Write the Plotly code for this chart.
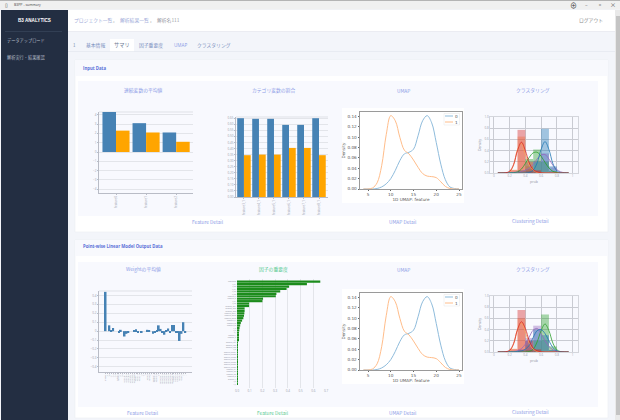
import plotly.graph_objects as go

W, H = 620, 420
JP = "Noto Sans CJK JP"
LINK = "#8c9be6"
BLUE = "steelblue"
ORANGE = "orange"
GREEN = "#1c8c1c"

# continuous / categorical averages
cont_labels = ["feature0", "feature1", "feature2"]
cont_blue = [4.3, 3.1, 2.1]
cont_orange = [2.3, 2.1, 1.1]
cat_labels = ["feature3_1", "feature4_1", "feature5_1", "feature6_1", "feature7_1", "feature8_1"]
cat_blue = [0.65, 0.645, 0.645, 0.595, 0.595, 0.65]
cat_orange = [0.345, 0.35, 0.35, 0.405, 0.405, 0.345]
cat_ticks = [0.0, 0.05, 0.1, 0.15, 0.2, 0.25, 0.3, 0.35, 0.4, 0.45, 0.5, 0.55, 0.6, 0.65]

# umap density
umap_x = [4, 5, 6, 7, 8, 9, 10, 11, 12, 13, 14, 15, 16, 17, 18, 19, 20, 21, 22, 23, 24, 25]
umap_0 = [0, 0, 0, 0.001, 0.004, 0.01, 0.02, 0.036, 0.055, 0.068, 0.071, 0.077, 0.103, 0.132, 0.142, 0.128,
          0.09, 0.048, 0.018, 0.004, 0.001, 0]
umap_1 = [0, 0, 0.002, 0.012, 0.045, 0.105, 0.142, 0.132, 0.1, 0.075, 0.068, 0.056, 0.042, 0.03, 0.025, 0.024,
          0.022, 0.014, 0.005, 0.001, 0, 0]
umap_ticks = [0, 0.02, 0.04, 0.06, 0.08, 0.1, 0.12, 0.14]

# clustering histograms (bin centre, height)
bins = [0.25, 0.35, 0.45, 0.55, 0.65, 0.75]
clu1_red = [0.05, 0.77, 0.2, 0.05, 0, 0]
clu1_orange = [0.06, 0.65, 0.12, 0.02, 0, 0]
clu1_green = [0, 0.05, 0.25, 0.42, 0.2, 0.02]
clu1_blue = [0, 0, 0.03, 0.2, 0.79, 0.12]
clu1_purple = [0, 0.03, 0.07, 0.22, 0.35, 0.1]
clu2_red = [0.05, 0.75, 0.2, 0.05, 0, 0]
clu2_orange = [0.06, 0.6, 0.12, 0.02, 0, 0]
clu2_green = [0, 0, 0.03, 0.2, 0.67, 0.1]
clu2_blue = [0, 0.02, 0.2, 0.4, 0.3, 0.03]
clu2_purple = [0, 0.05, 0.25, 0.47, 0.2, 0.03]

# clustering kde curves
kde_x = [0.05, 0.1, 0.15, 0.2, 0.25, 0.3, 0.35, 0.4, 0.45, 0.5, 0.55, 0.6, 0.65, 0.7, 0.75, 0.8, 0.85, 0.9, 0.95]
kde1_red = [0, 0, 0.005, 0.03, 0.15, 0.4, 0.55, 0.4, 0.18, 0.06, 0.02, 0.005, 0, 0, 0, 0, 0, 0, 0]
kde1_orange = [0, 0, 0, 0.02, 0.14, 0.42, 0.53, 0.33, 0.14, 0.05, 0.01, 0, 0, 0, 0, 0, 0, 0, 0]
kde1_green = [0, 0, 0, 0, 0.005, 0.02, 0.07, 0.17, 0.28, 0.36, 0.37, 0.3, 0.19, 0.09, 0.03, 0.01, 0, 0, 0]
kde1_blue = [0, 0, 0, 0, 0, 0, 0, 0, 0.01, 0.05, 0.18, 0.42, 0.56, 0.42, 0.17, 0.04, 0.005, 0, 0]
kde1_purple = [0, 0, 0.002, 0.005, 0.01, 0.02, 0.03, 0.05, 0.09, 0.15, 0.25, 0.32, 0.33, 0.25, 0.14, 0.06, 0.02, 0.005, 0]
kde2_red = [0, 0, 0.005, 0.03, 0.15, 0.4, 0.54, 0.42, 0.2, 0.07, 0.02, 0.005, 0, 0, 0, 0, 0, 0, 0]
kde2_orange = [0, 0, 0, 0.02, 0.14, 0.4, 0.52, 0.36, 0.15, 0.05, 0.01, 0, 0, 0, 0, 0, 0, 0, 0]
kde2_green = [0, 0, 0, 0, 0, 0, 0, 0, 0.01, 0.05, 0.18, 0.38, 0.5, 0.38, 0.16, 0.04, 0.005, 0, 0]
kde2_blue = [0, 0, 0, 0, 0, 0.01, 0.02, 0.05, 0.12, 0.26, 0.38, 0.4, 0.33, 0.2, 0.08, 0.02, 0.005, 0, 0]
kde2_purple = [0, 0, 0.002, 0.005, 0.01, 0.02, 0.06, 0.14, 0.27, 0.39, 0.42, 0.33, 0.2, 0.1, 0.04, 0.015, 0.005, 0, 0]

# weights and importance
weight_labels = ["intercept", "f_a1", "f_a2", "f_b1", "f_b2", "f_b3", "feature_c", "feature_d", "f_e1", "f_e2",
                 "feature_ab1", "feature_ab2", "feature_ab3", "feature_abc1", "feature_abc2", "feature_abc3",
                 "feature_f1", "feature_f2", "feature_f3", "f_g", "f_h", "f_i", "feature_j", "feature_k",
                 "f_l", "feature_m1", "feature_m2", "feature_m3", "f_n", "feature_ncat1", "feature_ncat2",
                 "feature_ncat3", "feature_ncat4", "feature_ncat5", "feature_ncat6", "feature_ncat7", "feature_p1",
                 "feature_p2", "feature_p3", "feature_q", "feature_r", "f_s", "f_t"]
weights = [0.44, 0, 0.065, 0.01, 0.035, 0, 0, -0.01, 0.015, 0, -0.06, -0.03, -0.015, 0, 0, 0.005, 0.02, -0.015,
           0, -0.01, 0, 0, 0.015, 0.005, 0, -0.03, -0.015, 0.01, 0.065, 0.025, -0.01, -0.04, 0.01, 0.03, -0.01,
           0.07, 0.07, -0.01, -0.02, -0.11, -0.03, 0.1, -0.01]
weight_ticks = [-0.4, -0.3, -0.2, -0.1, 0, 0.1, 0.2, 0.3, 0.4]
importance = [0.655, 0.55, 0.41, 0.39, 0.34, 0.31, 0.305, 0.205, 0.2, 0.095, 0.095, 0.06, 0.06, 0.058, 0.055, 0.05,
              0.04, 0.03, 0.025, 0.02, 0.018, 0.015, 0.012, 0.01, 0.008, 0.006, 0.005, 0.005, 0.004, 0.004, 0.003,
              0.003, 0.003, 0.002, 0.002, 0.002, 0.002, 0.001, 0.001, 0.001, 0.001, 0.001, 0.001]
importance_ticks = [0, 0.1, 0.2, 0.3, 0.4, 0.5, 0.6, 0.7]


def px(x):
    return x / W


def py(y):
    return 1 - y / H


fig = go.Figure()
n_axes = 0


def add_axes(x0, x1, y0, y1, xaxis, yaxis):
    # x0..y1 are pixels of the window, y measured from the top
    global n_axes
    n_axes += 1
    n = n_axes
    xaxis.update(domain=[px(x0), px(x1)], anchor=f"y{n}")
    yaxis.update(domain=[py(y1), py(y0)], anchor=f"x{n}")
    fig.update_layout(**{f"xaxis{n}": xaxis, f"yaxis{n}": yaxis})
    return dict(xaxis=f"x{n}", yaxis=f"y{n}")


def rect(x0, y0, x1, y1, fill, line=None):
    fig.add_shape(type="rect", xref="paper", yref="paper", x0=px(x0), x1=px(x1), y0=py(y0), y1=py(y1),
                  fillcolor=fill, line=dict(width=0.6 if line else 0, color=line or fill), layer="below")


def hline(x0, x1, y, color):
    fig.add_shape(type="line", xref="paper", yref="paper", x0=px(x0), x1=px(x1), y0=py(y), y1=py(y),
                  line=dict(width=0.7, color=color), layer="below")


def label(x, y, text, size=4.8, color=LINK, anchor="center", family=JP):
    fig.add_annotation(xref="paper", yref="paper", x=px(x), y=py(y), text=text, showarrow=False,
                       xanchor=anchor, yanchor="middle", font=dict(size=size, color=color, family=family))


tick_font = dict(size=3, color="#9a9eac", family="Open Sans")
grid = "#e3e5ea"


def bar_axes(x0, x1, y0, y1, xrange, yrange, yticks, label_size=3):
    xa = dict(type="category", range=xrange, showgrid=False, showline=True, linecolor="#b9bcc6", linewidth=0.7,
              tickangle=-90, tickfont=dict(tick_font, size=label_size), ticks="outside", ticklen=1, tickwidth=0.5,
              tickcolor="#b9bcc6", dtick=1)
    ya = dict(range=yrange, tickvals=yticks, tickfont=tick_font, gridcolor=grid, gridwidth=0.7, zeroline=False,
              showline=True, linecolor="#b9bcc6", linewidth=0.7, ticks="outside", ticklen=1, tickwidth=0.5,
              tickcolor="#b9bcc6")
    hline(x0, x1, y0, "#d5d7de")
    return add_axes(x0, x1, y0, y1, xa, ya)


def umap_chart(top):
    rect(342, top, 464, top + 95, "white")
    ax = add_axes(360, 462, top + 4, top + 81,
                  dict(range=[3.24, 25.66], tickvals=[5, 10, 15, 20, 25], showgrid=False, zeroline=False,
                       showline=True, mirror=True, linecolor="#9a9a9a", linewidth=0.8, ticks="outside", ticklen=1.5,
                       tickwidth=0.5, tickcolor="#666", tickfont=dict(size=4.2, color="#555", family="DejaVu Sans"),
                       title=dict(text="1D UMAP: feature", standoff=1,
                                  font=dict(size=4.2, color="#555", family="DejaVu Sans"))),
                  dict(range=[0, 0.149], tickvals=umap_ticks, tickformat=".2f", showgrid=False, zeroline=False,
                       showline=True, mirror=True, linecolor="#9a9a9a", linewidth=0.8, ticks="outside", ticklen=1.5,
                       tickwidth=0.5, tickcolor="#666", tickfont=dict(size=4.2, color="#555", family="DejaVu Sans"),
                       title=dict(text="Density", standoff=1,
                                  font=dict(size=4.2, color="#555", family="DejaVu Sans"))))
    for vals, color in ((umap_0, "#8fbcdc"), (umap_1, "#ffbd8a")):
        fig.add_trace(go.Scatter(x=umap_x, y=vals, mode="lines", line=dict(color=color, width=1, shape="spline"),
                                 showlegend=False, **ax))
    # little matplotlib style legend
    fig.add_shape(type="rect", xref="paper", yref="paper", x0=px(444), x1=px(459.5), y0=py(top + 5.5), y1=py(top + 17),
                  fillcolor="white", line=dict(width=0.4, color="#dddddd"))
    for dy, color, name in ((8, "#8fbcdc", "0"), (14, "#ffbd8a", "1")):
        fig.add_shape(type="line", xref="paper", yref="paper", x0=px(445), x1=px(453), y0=py(top + dy), y1=py(top + dy),
                      line=dict(width=1, color=color))
        label(456, top + dy, name, size=4.2, color="#555", family="DejaVu Sans")


def cluster_chart(y0, y1, hists, kdes):
    # lists come in the order orange, purple, green, blue, red so the red curve ends up on top
    ax = add_axes(490, 578, y0, y1,
                  dict(range=[-0.05, 1.07], tickvals=[0, 0.2, 0.4, 0.6, 0.8, 1], ticktext=["0", "0.2", "0.4", "0.6", "0.8", "1"],
                       gridcolor="#c9cbd2", gridwidth=0.7, zeroline=False, showline=True, linecolor="#d4d6dc",
                       linewidth=0.6, mirror=True, tickfont=tick_font,
                       title=dict(text="prob", standoff=3, font=dict(size=3.5, color="#8a8f9c", family="Open Sans"))),
                  dict(range=[0, 1], tickvals=[0, 0.2, 0.4, 0.6, 0.8, 1], tickformat=".1f", gridcolor="#c9cbd2",
                       gridwidth=0.7, zeroline=False, showline=True, linecolor="#d4d6dc", linewidth=0.6, mirror=True,
                       tickfont=tick_font,
                       title=dict(text="Density", standoff=3, font=dict(size=3.5, color="#8a8f9c", family="Open Sans"))))
    colors = ["#ff9f4e", "#9467bd", "#2ca02c", "#1f77b4", "#d62728"]
    for vals, color in zip(hists, colors):
        fig.add_trace(go.Bar(x=bins, y=vals, width=0.1, offset=-0.05, offsetgroup="hist", marker=dict(color=color, line_width=0),
                             opacity=0.4, showlegend=False, **ax))
    for vals, color in zip(kdes, colors):
        fig.add_trace(go.Scatter(x=kde_x, y=vals, mode="lines", line=dict(color=color, width=0.8, shape="spline"),
                                 showlegend=False, **ax))


# page furniture
rect(0, 0, W, H, "#f3f5fa")
rect(0, 0, W, 9.5, "#f0f0f0")
hline(0, W, 0.5, "#9a9a9a")
rect(1, 10, 68, H, "#232e42")
rect(68, 10, 615, 31, "white")
hline(68, 615, 31.5, "#e6e8ee")
rect(615, 10, W, H, "#e9e9e9")
rect(616, 16, 620, 415, "#c4c4c4")
rect(110, 39, 134, 52, "white")
hline(68, 615, 51.5, "#e3e6ee")
hline(5, 62, 31.5, "#3a465c")
for y0, y1, t1, t2 in ((60, 232, 81, 216), (240, 418, 262, 407)):
    rect(75, y0, 608, y1, "white", "#eceef4")
    rect(75, y0, 608, y0 + 16, "#f8f9fd")
    rect(78, t1, 598, t2, "#f8f9fe")

label(12, 5, "B3PP - summary", size=3.5, color="#444", anchor="left", family="Open Sans")
label(6, 5, "▯", size=5, color="#444")
label(573, 5, "⊕", size=7, color="#333")
label(586, 5, "–", size=5, color="#555")
label(600, 5, "▫", size=6, color="#555")
label(613, 5, "×", size=6, color="#555")
label(34, 20, "<b>B3 ANALYTICS</b>", size=4.6, color="white", family="Liberation Sans")
label(5, 40, "データアップロード", size=4.2, color="#b3bac7", anchor="left")
label(5, 58, "解析実行・結果確認", size=4.2, color="#b3bac7", anchor="left")
label(72, 20, "プロジェクト一覧", anchor="left", color="#a1acd9")
label(113.5, 20, "›", size=5, color="#999")
label(118, 20, "解析結果一覧", anchor="left", color="#a1acd9")
label(151, 20, "›", size=5, color="#999")
label(155, 20, "解析名111", anchor="left", color="#9a9ba5")
label(591, 20, "ログアウト", color="#888")
label(74, 45, "1", size=4.5, color="#7a8ba8")
label(95, 45, "基本情報", color="#7a90c0")
label(122, 45, "サマリ", size=5.2, color="#6f7d96")
label(151, 45, "因子重要度", color="#7a90c0")
label(180, 45, "UMAP", size=4.6, color="#8c9be6", family="Open Sans")
label(214, 45, "クラスタリング", color="#7a90c0")
label(81, 67.5, "<b>Input Data</b>", size=4.3, color="#5a70d8", anchor="left", family="Open Sans")
label(81, 246, "<b>Point-wise Linear Model Output Data</b>", size=4.3, color="#5a70d8", anchor="left", family="Open Sans")

for x, y, txt, col in ((143, 90, "連続変数の平均値", LINK), (273, 90, "カテゴリ変数の割合", LINK), (403, 90, "UMAP", LINK),
                       (533, 90, "クラスタリング", LINK), (143, 269, "Weightの平均値", LINK),
                       (273, 269, "因子の重要度", "#55c98f"), (403, 269, "UMAP", LINK), (533, 269, "クラスタリング", LINK),
                       (208, 221, "Feature Detail", LINK), (403, 221, "UMAP Detail", LINK),
                       (530, 221, "Clustering Detail", LINK), (143, 412, "Feature Detail", LINK),
                       (273, 412, "Feature Detail", "#55c98f"), (403, 412, "UMAP Detail", LINK),
                       (530, 412, "Clustering Detail", LINK)):
    label(x, y, txt, color=col)

# row 1
ax = bar_axes(99, 193, 112, 193, [-0.565, 2.56], [-4.4, 4.3], [-4, -3, -2, -1, 0, 1, 2, 3, 4])
fig.add_trace(go.Bar(x=cont_labels, y=cont_blue, marker=dict(color=BLUE, line_width=0), showlegend=False, **ax))
fig.add_trace(go.Bar(x=cont_labels, y=cont_orange, marker=dict(color=ORANGE, line_width=0), showlegend=False, **ax))

ax = bar_axes(236, 328, 117, 197, [-0.53, 5.6], [0, 0.66], cat_ticks)
fig.update_layout(yaxis2=dict(tickformat=".2f"))
fig.add_trace(go.Bar(x=cat_labels, y=cat_blue, marker=dict(color=BLUE, line_width=0), showlegend=False, **ax))
fig.add_trace(go.Bar(x=cat_labels, y=cat_orange, marker=dict(color=ORANGE, line_width=0), showlegend=False, **ax))

umap_chart(108)
cluster_chart(117, 173, [clu1_orange, clu1_purple, clu1_green, clu1_blue, clu1_red],
              [kde1_orange, kde1_purple, kde1_green, kde1_blue, kde1_red])

# row 2
ax = bar_axes(99, 192, 291, 372, [-3.5, 45.5], [-0.458, 0.45], weight_ticks, label_size=1.5)
fig.add_trace(go.Bar(x=weight_labels, y=weights, marker=dict(color=BLUE, line_width=0), showlegend=False, **ax))

ax = add_axes(237, 326, 279, 388,
              dict(range=[0, 0.7], tickvals=importance_ticks, ticktext=["0.0", "0.1", "0.2", "0.3", "0.4", "0.5", "0.6", "0.7"],
                   gridcolor=grid, gridwidth=0.7, zeroline=False, showline=False, tickfont=tick_font, ticklen=1),
              dict(type="category", range=[43.7, -1.1], showgrid=False, tickfont=dict(size=1.9, color="#8a8e9c", family="Open Sans"),
                   showline=False, ticklen=1, dtick=1))
fig.add_trace(go.Bar(x=importance, y=weight_labels, orientation="h", marker=dict(color=GREEN, line_width=0),
                     showlegend=False, **ax))

umap_chart(289)
cluster_chart(296, 352, [clu2_orange, clu2_purple, clu2_green, clu2_blue, clu2_red],
              [kde2_orange, kde2_purple, kde2_green, kde2_blue, kde2_red])

fig.update_layout(width=W, height=H, margin=dict(l=0, r=0, t=0, b=0, autoexpand=False), barmode="group", bargap=0.1,
                  bargroupgap=0, paper_bgcolor="#f3f5fa", plot_bgcolor="rgba(0,0,0,0)", showlegend=False)

fig.write_html("out.html", config=dict(displayModeBar=False),
               post_script="document.body.style.margin='0';document.body.style.overflow='hidden';")
